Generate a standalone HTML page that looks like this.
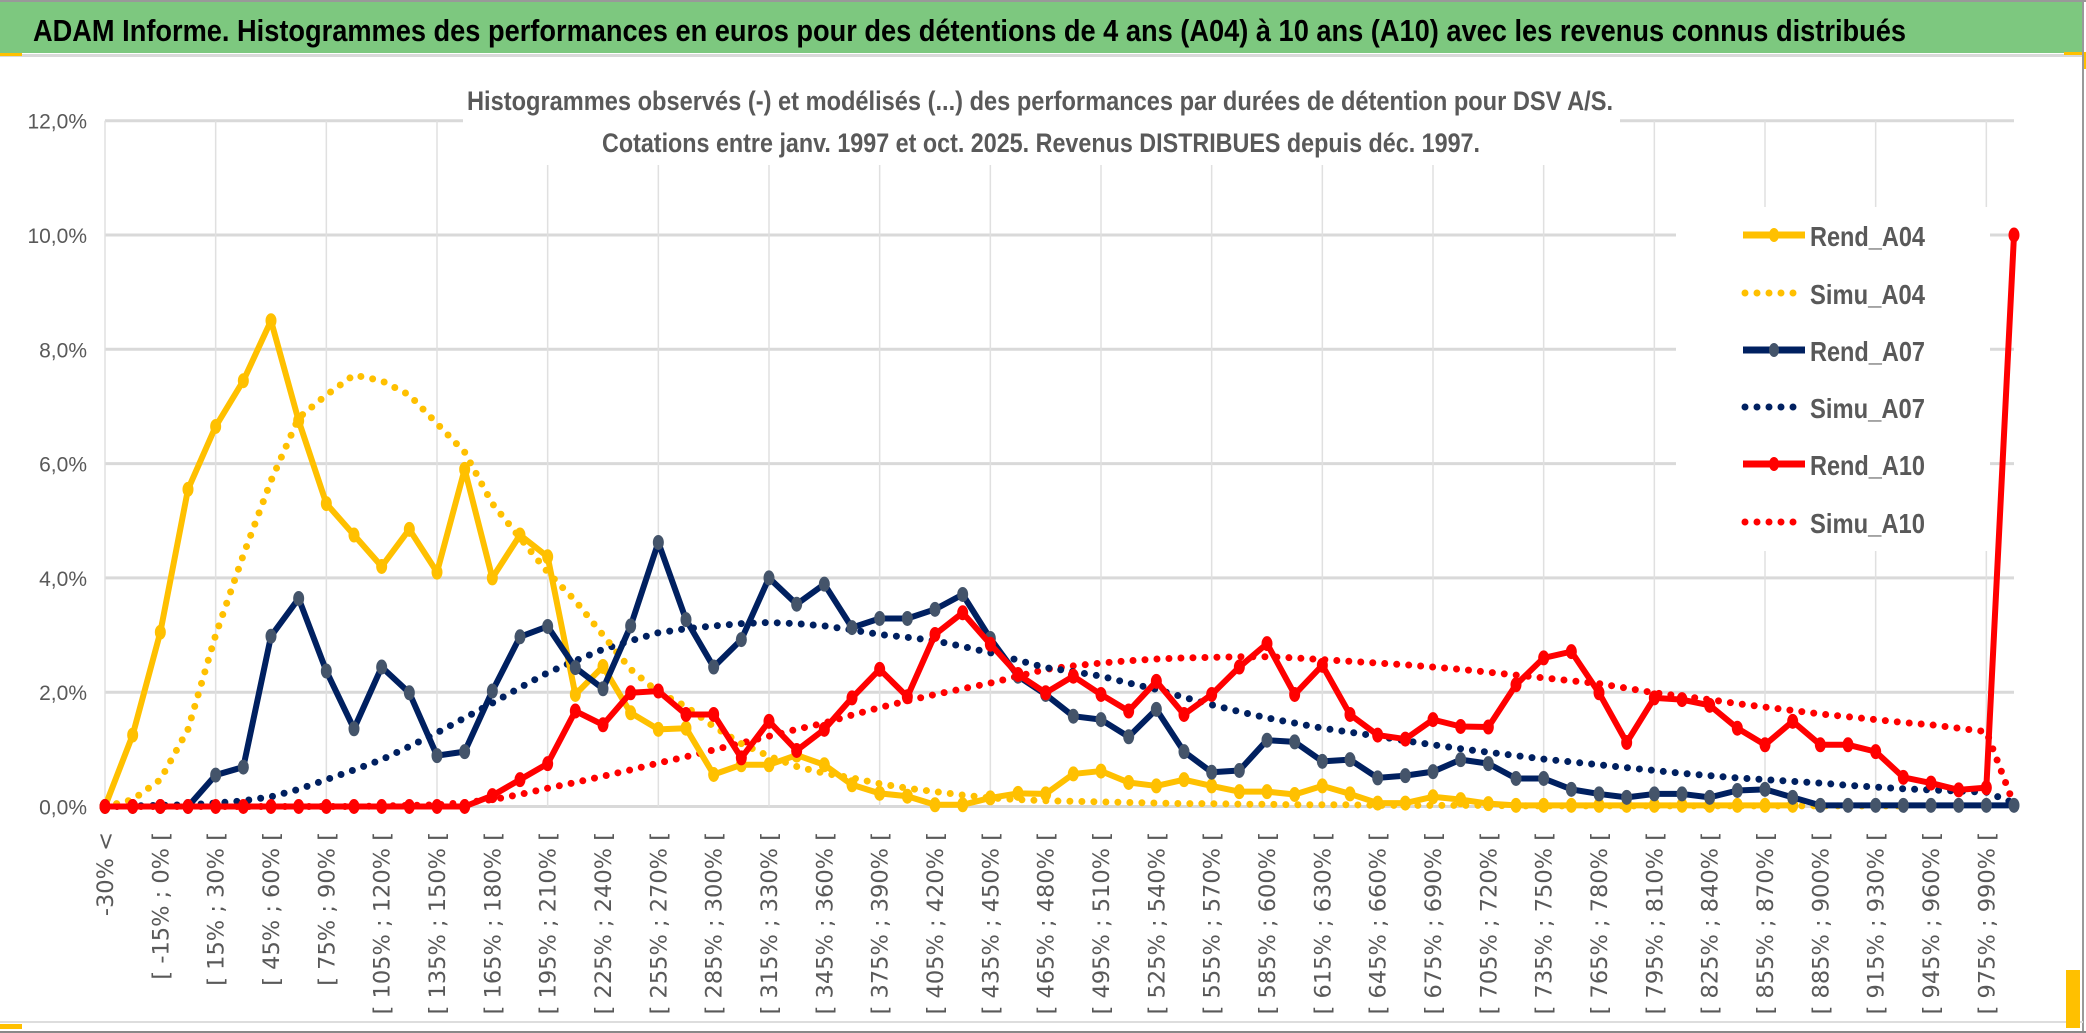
<!DOCTYPE html>
<html><head><meta charset="utf-8"><style>
html,body{margin:0;padding:0;background:#fff;}
svg{display:block;}
</style></head><body>
<svg id="chart" width="2086" height="1033" viewBox="0 0 2086 1033" xmlns="http://www.w3.org/2000/svg">
<rect x="0" y="0" width="2086" height="1033" fill="#fff"/>
<rect x="0" y="0" width="2086" height="2" fill="#999"/>
<rect x="0" y="2" width="2083" height="51" fill="#7DC87F"/>
<rect x="0" y="54" width="2083" height="3" fill="#d9d9d9"/>
<rect x="0" y="53" width="22" height="3" fill="#FFC000"/>
<rect x="2064" y="52" width="20" height="3" fill="#FFC000"/>
<rect x="2082" y="52" width="4" height="17" fill="#FFC000"/>
<rect x="2082" y="2" width="2" height="1031" fill="#999"/>
<rect x="0" y="1021" width="2083" height="2" fill="#ddd"/>
<rect x="0" y="1031" width="2086" height="2" fill="#888"/>
<rect x="0" y="1024" width="22" height="5" fill="#FFC000"/>
<rect x="2066" y="970" width="14" height="58" fill="#FFC000"/>
<text x="33" y="41" font-family="Liberation Sans, sans-serif" font-weight="bold" font-size="31" textLength="1873" lengthAdjust="spacingAndGlyphs" fill="#000">ADAM Informe. Histogrammes des performances en euros pour des détentions de 4 ans (A04) à 10 ans (A10) avec les revenus connus distribués</text>
<g id="grid"></g>
<rect x="463" y="60" width="1157" height="105" fill="#fff"/>
<text x="1040" y="110" text-anchor="middle" font-family="Liberation Sans, sans-serif" font-weight="bold" font-size="27" textLength="1146" lengthAdjust="spacingAndGlyphs" fill="#595959">Histogrammes observés (-) et modélisés (...) des performances par durées de détention pour DSV A/S.</text>
<text x="1041" y="152" text-anchor="middle" font-family="Liberation Sans, sans-serif" font-weight="bold" font-size="27" textLength="878" lengthAdjust="spacingAndGlyphs" fill="#595959">Cotations entre janv. 1997 et oct. 2025. Revenus DISTRIBUES depuis déc. 1997.</text>
<rect x="1676" y="207" width="314" height="344" fill="#fff"/>
<g id="yaxis"></g>
<g id="xaxis"></g>
<g id="series"></g>
<g id="legend"></g>
</svg>
<script>
const categories = (function(){const c=["-30% <","[ -30% ; -15% ["];for(let s=-15;s<=975;s+=15){c.push("[ "+s+"% ; "+(s+15)+"% [");}c.push("> 990%");return c;})();
const yTicks = [0,2,4,6,8,10,12];
const yTickLabels = ["0,0%","2,0%","4,0%","6,0%","8,0%","10,0%","12,0%"];
const rendA04 = [0,1.25,3.05,5.55,6.65,7.45,8.5,6.75,5.3,4.75,4.2,4.85,4.1,5.9,4.0,4.75,4.37,1.96,2.45,1.64,1.35,1.37,0.56,0.73,0.73,0.9,0.73,0.38,0.23,0.18,0.03,0.03,0.15,0.23,0.22,0.57,0.62,0.42,0.36,0.47,0.36,0.26,0.26,0.21,0.36,0.22,0.06,0.06,0.17,0.12,0.05,0.02,0.02,0.02,0.02,0.02,0.02,0.02,0.02,0.02,0.02,0.02];
const simuA04 = [0,0.12,0.47,1.35,3.0,4.4,5.7,6.8,7.2,7.55,7.45,7.2,6.7,6.2,5.3,4.7,4.1,3.6,3.0,2.4,2.0,1.75,1.4,1.1,0.88,0.7,0.58,0.5,0.4,0.32,0.26,0.2,0.15,0.12,0.1,0.09,0.08,0.07,0.06,0.05,0.05,0.04,0.04,0.03,0.03,0.03,0.02,0.02,0.02,0.02,0.02,0.01,0.01,0.01,0.01,0.01,0.01,0.01,0.01,0.01,0.01,0.01,0.01,0.01,0.01,0.01];
const rendA07 = [0,0,0,0,0.55,0.69,2.98,3.64,2.37,1.36,2.44,1.99,0.89,0.96,2.02,2.97,3.15,2.43,2.06,3.16,4.62,3.27,2.44,2.92,4.0,3.54,3.89,3.13,3.29,3.29,3.45,3.71,2.94,2.28,1.96,1.58,1.52,1.22,1.70,0.96,0.60,0.63,1.16,1.13,0.79,0.82,0.50,0.54,0.61,0.82,0.75,0.49,0.49,0.30,0.22,0.16,0.22,0.22,0.16,0.28,0.30,0.16,0.02,0.02,0.02,0.02,0.02,0.02,0.02,0.02];
const simuA07 = [0,0.01,0.02,0.03,0.06,0.1,0.17,0.3,0.47,0.64,0.82,1.05,1.29,1.55,1.81,2.08,2.34,2.55,2.75,2.9,3.04,3.11,3.16,3.2,3.22,3.2,3.16,3.09,3.01,2.96,2.9,2.8,2.69,2.56,2.43,2.36,2.28,2.16,2.05,1.91,1.78,1.66,1.55,1.46,1.37,1.3,1.23,1.15,1.08,1.01,0.95,0.89,0.83,0.78,0.73,0.68,0.63,0.58,0.54,0.5,0.47,0.44,0.41,0.37,0.34,0.31,0.29,0.27,0.25,0.06];
const rendA10 = [0,0,0,0,0,0,0,0,0,0,0,0,0,0,0.19,0.47,0.75,1.67,1.43,1.99,2.02,1.61,1.61,0.85,1.49,0.98,1.35,1.90,2.40,1.92,3.01,3.39,2.84,2.31,1.99,2.28,1.96,1.67,2.19,1.61,1.96,2.44,2.85,1.96,2.47,1.61,1.25,1.18,1.52,1.40,1.39,2.13,2.60,2.71,1.99,1.12,1.90,1.87,1.77,1.37,1.08,1.49,1.08,1.08,0.96,0.51,0.41,0.29,0.33,10.0];
const simuA10 = [0,0,0,0,0,0,0,0,0,0,0.01,0.02,0.03,0.07,0.12,0.21,0.32,0.42,0.53,0.64,0.76,0.87,0.99,1.11,1.23,1.35,1.46,1.6,1.73,1.85,1.96,2.06,2.16,2.28,2.40,2.46,2.51,2.55,2.58,2.6,2.61,2.62,2.62,2.6,2.57,2.54,2.51,2.48,2.44,2.4,2.35,2.3,2.25,2.2,2.15,2.07,1.99,1.93,1.87,1.8,1.74,1.68,1.62,1.57,1.52,1.47,1.43,1.37,1.31,0.03];

const NS="http://www.w3.org/2000/svg";
const X0=105, X1=2014, Y0=806.5, Y12=120.7;
const n=categories.length;
function xPos(i){return X0+(X1-X0)*i/(n-1);}
function yPos(v){return Y0-(Y0-Y12)*v/12;}
function mk(tag,attrs,parent){const e=document.createElementNS(NS,tag);for(const k in attrs)e.setAttribute(k,attrs[k]);parent.appendChild(e);return e;}

const grid=document.getElementById('grid');
yTicks.forEach(t=>{
  const l=mk('line',{x1:X0,x2:X1,y1:yPos(t),y2:yPos(t),stroke:'#d9d9d9','stroke-width':3},grid);
  
  
});
for(let i=0;i<n;i+=4){
  const l=mk('line',{x1:xPos(i),x2:xPos(i),y1:Y12,y2:Y0,stroke:'#e0e0e0','stroke-width':1.5},grid);
  
  
}

const ya=document.getElementById('yaxis');
yTicks.forEach((t,k)=>{
  const tx=mk('text',{x:87,y:yPos(t)+8,'text-anchor':'end','font-family':'Liberation Sans, sans-serif','font-size':21,fill:'#595959'},ya);
  tx.textContent=yTickLabels[k];
  
  
});
const xa=document.getElementById('xaxis');
for(let i=0;i<n;i+=2){
  const x=xPos(i)+8, y=832;
  const tx=mk('text',{x:x,y:y,transform:'rotate(-90 '+x+' '+y+')','text-anchor':'end','font-family':'DejaVu Sans, sans-serif','font-size':22.5,fill:'#595959'},xa);
  tx.textContent=categories[i];
  
  
}

const ser=document.getElementById('series');
function pts(arr){return arr.map((v,i)=>xPos(i)+','+yPos(v)).join(' ');}
function dotted(arr,color,name){
  const p=mk('polyline',{points:pts(arr),fill:'none',stroke:color,'stroke-width':7,'stroke-linecap':'round','stroke-dasharray':'0 12'},ser);
  
  
}
function solid(arr,color,mcolor,name,r){
  const g=mk('g',{},ser);
  
  
  const p=mk('polyline',{points:pts(arr),fill:'none',stroke:color,'stroke-width':6,'stroke-linejoin':'round'},g);
  
  
  arr.forEach((v,i)=>{
    const c=mk('ellipse',{cx:xPos(i),cy:yPos(v),rx:r,ry:r+2,fill:mcolor},g);
    
    
  });
}
dotted(simuA10,'#FF0000','simu-a10-series');
dotted(simuA07,'#002060','simu-a07-series');
dotted(simuA04,'#FFC000','simu-a04-series');
solid(rendA04,'#FFC000','#FFC000','rend-a04-series',5.5);
solid(rendA07,'#002060','#44546A','rend-a07-series',5.5);
solid(rendA10,'#FF0000','#FF0000','rend-a10-series',5.5);

const lg=document.getElementById('legend');
const entries=[["Rend_A04","#FFC000","#FFC000",false],["Simu_A04","#FFC000",null,true],["Rend_A07","#002060","#44546A",false],["Simu_A07","#002060",null,true],["Rend_A10","#FF0000","#FF0000",false],["Simu_A10","#FF0000",null,true]];
const ly=[235,293,350,407,464,522];
entries.forEach((e,k)=>{
  const g=mk('g',{},lg);
  
  
  const y=ly[k];
  if(e[3]){
    mk('line',{x1:1745,x2:1795,y1:y,y2:y,stroke:e[1],'stroke-width':7,'stroke-linecap':'round','stroke-dasharray':'0 12'},g);
  } else {
    mk('line',{x1:1743,x2:1805,y1:y,y2:y,stroke:e[1],'stroke-width':7},g);
    mk('ellipse',{cx:1774,cy:y,rx:5,ry:7,fill:e[2]},g);
  }
  const t=mk('text',{x:1810,y:y+11,'font-family':'Liberation Sans, sans-serif','font-weight':'bold','font-size':28,textLength:115,lengthAdjust:'spacingAndGlyphs',fill:'#595959'},g);
  t.textContent=e[0];
});
</script>
</body></html>
